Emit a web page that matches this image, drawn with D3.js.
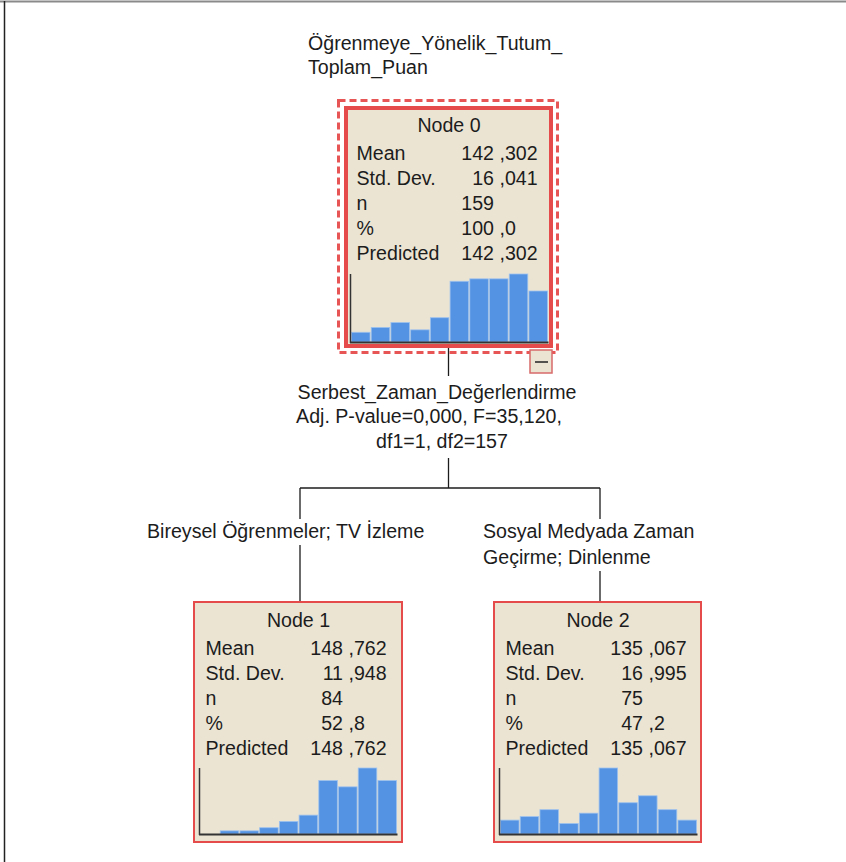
<!DOCTYPE html>
<html>
<head>
<meta charset="utf-8">
<script src="https://cdn.jsdelivr.net/npm/d3@7"></script>
<style>
  body { margin: 0; background: #fff; }
  svg { display: block; }
  text { font-family: "Liberation Sans", Arial, sans-serif; font-size: 19.6px; fill: #1c1c1c; }
</style>
</head>
<body>
<div id="tree"></div>
<script>
// target variable and split info
const targetLines = ["Öğrenmeye_Yönelik_Tutum_", "Toplam_Puan"];
const splitLines = ["Serbest_Zaman_Değerlendirme", "Adj. P-value=0,000, F=35,120,", "df1=1, df2=157"];
const branchLeft = ["Bireysel Öğrenmeler; TV İzleme"];
const branchRight = ["Sosyal Medyada Zaman", "Geçirme; Dinlenme"];

// node stats
const statLabels = ["Mean", "Std. Dev.", "n", "%", "Predicted"];
const nodeNames = ["Node 0", "Node 1", "Node 2"];
const node0Stats = ["142 ,302", "16 ,041", "159", "100 ,0", "142 ,302"];
const node1Stats = ["148 ,762", "11 ,948", "84", "52 ,8", "148 ,762"];
const node2Stats = ["135 ,067", "16 ,995", "75", "47 ,2", "135 ,067"];

// histogram counts (10 bins each)
const bins = [1, 2, 3, 4, 5, 6, 7, 8, 9, 10];
const node0Hist = [4, 6, 8, 5, 10, 25, 26, 26, 28, 21];
const node1Hist = [0, 1, 1, 2, 4, 6, 17, 15, 21, 17];
const node2Hist = [4, 5, 7, 3, 6, 19, 9, 11, 7, 4];

const width = 846, height = 862;
const red = "#e64b4b", fill = "#ebe4d3", blue = "#5493e3";

const svg = d3.select("#tree").append("svg")
  .attr("width", width)
  .attr("height", height);

// page frame lines
svg.append("line").attr("x1", 0).attr("x2", width).attr("y1", 1.5).attr("y2", 1.5)
  .attr("stroke", "#8a8a8a").attr("stroke-width", 2);
svg.append("line").attr("x1", 4.5).attr("x2", 4.5).attr("y1", 1).attr("y2", height)
  .attr("stroke", "#222").attr("stroke-width", 1.5);

// target title
svg.selectAll(".target").data(targetLines).join("text")
  .attr("x", 308).attr("y", (d, i) => 50 + i * 24).text((d) => d);

// boxes
const nodes = [
  { name: nodeNames[0], stats: node0Stats, hist: node0Hist, x: 344, y: 106, w: 209, h: 242, thick: true },
  { name: nodeNames[1], stats: node1Stats, hist: node1Hist, x: 193, y: 601, w: 210, h: 242, thick: false },
  { name: nodeNames[2], stats: node2Stats, hist: node2Hist, x: 493, y: 601, w: 209, h: 242, thick: false },
];

// links
const link = svg.append("g").attr("stroke", "#1c1c1c").attr("stroke-width", 1.3).attr("fill", "none");
const cx0 = 448.5, yBar = 488;
link.append("path").attr("d", `M${cx0},348V376`);
link.append("path").attr("d", `M${cx0},458V${yBar}`);
link.append("path").attr("d", `M300,${yBar}H600`);
link.append("path").attr("d", `M300,${yBar}V519M300,545V601`);
link.append("path").attr("d", `M600,${yBar}V519M600,571V601`);

// split text
const splitX = [437, 429, 442];
const splitY = [399, 423, 448];
svg.selectAll(".split").data(splitLines).join("text")
  .attr("text-anchor", "middle")
  .attr("x", (d, i) => splitX[i]).attr("y", (d, i) => splitY[i]).text((d) => d);

svg.selectAll(".bl").data(branchLeft).join("text")
  .attr("x", 147).attr("y", 538).text((d) => d);
svg.selectAll(".br").data(branchRight).join("text")
  .attr("x", 483).attr("y", (d, i) => 538 + i * 26).text((d) => d);

// dashed selection frame around node 0
svg.append("rect").attr("x", 338.5).attr("y", 100.5).attr("width", 219).attr("height", 252)
  .attr("fill", "none").attr("stroke", "#e85555").attr("stroke-width", 3)
  .attr("stroke-dasharray", "7,4");

// collapse button
svg.append("rect").attr("x", 530).attr("y", 350).attr("width", 22).attr("height", 23)
  .attr("fill", fill).attr("stroke", "#d86a6a").attr("stroke-width", 1.5);
svg.append("line").attr("x1", 535).attr("x2", 548).attr("y1", 362).attr("y2", 362)
  .attr("stroke", "#222").attr("stroke-width", 1.5);

nodes.forEach((n) => {
  const g = svg.append("g");
  const sw = n.thick ? 4 : 2;
  g.append("rect")
    .attr("x", n.x + sw / 2).attr("y", n.y + sw / 2)
    .attr("width", n.w - sw).attr("height", n.h - sw)
    .attr("fill", fill).attr("stroke", red).attr("stroke-width", sw);

  g.append("text").attr("text-anchor", "middle")
    .attr("x", n.x + n.w / 2 + 0.5).attr("y", n.y + 25.5).text(n.name);

  const rowY = d3.scaleLinear().domain([0, 4]).range([n.y + 53.5, n.y + 154.3]);
  g.selectAll(".lab").data(statLabels).join("text")
    .attr("x", n.x + 12.5).attr("y", (d, i) => rowY(i)).text((d) => d);

  // values aligned on the integer part
  const vals = g.selectAll(".val").data(n.stats).join("g");
  vals.append("text").attr("text-anchor", "end")
    .attr("x", n.x + 150).attr("y", (d, i) => rowY(i))
    .text((d) => d.split(" ")[0]);
  vals.append("text")
    .attr("x", n.x + 150).attr("y", (d, i) => rowY(i))
    .text((d) => (d.includes(" ") ? " " + d.split(" ")[1] : ""))
    .style("white-space", "pre");

  // histogram
  const bottom = n.y + n.h - (n.thick ? 6 : 9);
  const maxH = n.thick ? 68 : 66;
  const x = d3.scaleBand().domain(bins).range([n.x + 7.5, n.x + 203.5]).paddingInner(0.06);
  const y = d3.scaleLinear().domain([0, d3.max(n.hist)]).range([bottom, bottom - maxH]);

  g.selectAll(".bar").data(n.hist).join("rect")
    .attr("x", (d, i) => x(bins[i]))
    .attr("y", (d) => y(d))
    .attr("width", x.bandwidth())
    .attr("height", (d) => bottom - y(d))
    .attr("fill", blue)
    .attr("stroke", "#9cc1ee").attr("stroke-width", 0.8);

  g.append("line").attr("x1", n.x + 6.5).attr("x2", n.x + 6.5)
    .attr("y1", bottom - maxH).attr("y2", bottom + 1)
    .attr("stroke", "#333").attr("stroke-width", 1.5);
  g.append("line").attr("x1", n.x + 6).attr("x2", n.x + 204.5)
    .attr("y1", bottom + 0.5).attr("y2", bottom + 0.5)
    .attr("stroke", "#333").attr("stroke-width", 2);
});
</script>
</body>
</html>
